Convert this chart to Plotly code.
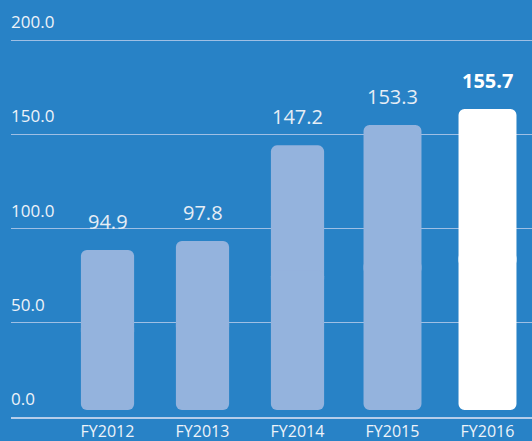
import plotly.graph_objects as go

# ---- data ----
categories = ["FY2012", "FY2013", "FY2014", "FY2015", "FY2016"]
label_values = [94.9, 97.8, 147.2, 153.3, 155.7]          # printed values
bar_heights = [88.6, 93.4, 144.1, 154.9, 163.4]           # heights as drawn on the axis
tick_vals = [0, 50, 100, 150, 200]
tick_text = ["0.0", "50.0", "100.0", "150.0", "200.0"]
highlight = [False, False, False, False, True]

# ---- style ----
BG = "#2882c6"
BAR = "#94b3dd"
HI = "#ffffff"
GRID = "#9fbfe4"
FONT = "Open Sans"
W, H = 532, 441
ML, MR, MT, MB = 11, 0, 0, 24
PX_PER_UNIT = 1.885
plot_h = H - MT - MB
y_max = plot_h / PX_PER_UNIT
base_val = 7 / PX_PER_UNIT
widths = [0.56, 0.56, 0.56, 0.61, 0.61]
colors = [HI if h else BAR for h in highlight]

x_idx = list(range(len(categories)))
mids = [(base_val + t) / 2 for t in bar_heights]

fig = go.Figure()
# lower half, drawn on a reversed twin axis so its rounded end is the bottom
fig.add_trace(go.Bar(
    x=x_idx, base=[y_max - m - 4 for m in mids],
    y=[(m + 4) - base_val for m in mids],
    yaxis="y2",
    width=widths, marker=dict(color=colors, line=dict(width=0), cornerradius=6),
    hoverinfo="skip", showlegend=False,
))
# upper half (rounded at the top)
fig.add_trace(go.Bar(
    x=x_idx, base=[m - 4 for m in mids],
    y=[t - (m - 4) for t, m in zip(bar_heights, mids)],
    width=widths, marker=dict(color=colors, line=dict(width=0), cornerradius=6),
    hoverinfo="skip", showlegend=False,
))

for i, (v, t, h) in enumerate(zip(label_values, bar_heights, highlight)):
    fig.add_annotation(
        x=i, y=t, text=f"<b>{v:.1f}</b>" if h else f"{v:.1f}",
        showarrow=False, yanchor="bottom", yshift=13,
        font=dict(family=FONT, size=20, color="#ffffff" if h else "#e6edf5"),
    )

plot_w = W - ML - MR
span = plot_w / 95.0
x0 = -(107.5 - ML) / 95.0

fig.update_layout(
    width=W, height=H,
    margin=dict(l=ML, r=MR, t=MT, b=MB),
    paper_bgcolor=BG, plot_bgcolor=BG,
    barmode="overlay",
    font=dict(family=FONT, color="#eef3f9"),
    xaxis=dict(
        range=[x0, x0 + span], tickvals=x_idx, ticktext=categories,
        showgrid=False, zeroline=False, showline=True, linecolor="#b5cdea", linewidth=2,
        ticks="", tickfont=dict(size=16, color="#eef3f9"), fixedrange=True,
        ticklabelstandoff=-1,
    ),
    yaxis=dict(
        range=[0, y_max], tickvals=tick_vals, ticktext=tick_text,
        showgrid=True, gridcolor=GRID, gridwidth=1,
        zeroline=False, showline=False, ticks="",
        ticklabelposition="inside top", ticklabelshift=-6, ticklabelstandoff=-3,
        tickfont=dict(size=17, color="#eef3f9"), fixedrange=True,
    ),
    yaxis2=dict(
        overlaying="y", range=[y_max, 0], visible=False, fixedrange=True,
    ),
)

fig.write_html("out.html", config={"displayModeBar": False},
               post_script="document.body.style.margin='0';")
